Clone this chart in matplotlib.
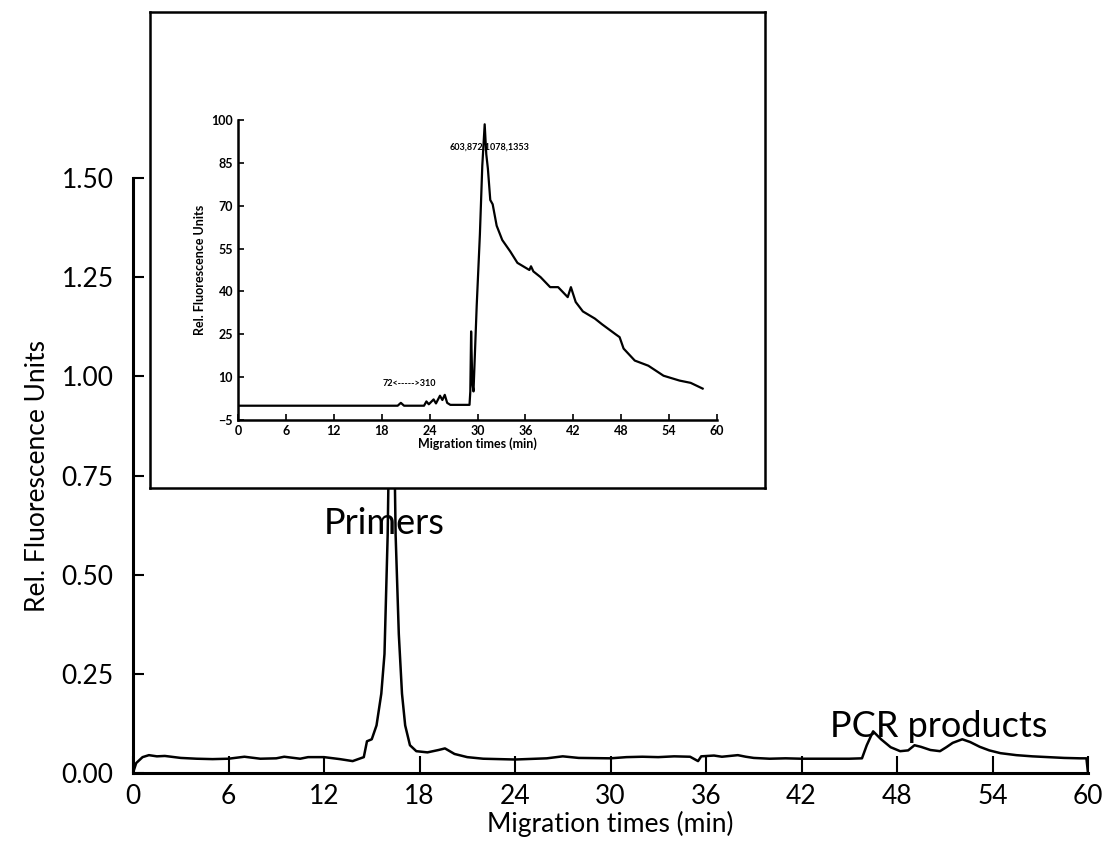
import numpy as np
import matplotlib.pyplot as plt

# main electropherogram (time in min, relative fluorescence)
main_t = [0.0, 0.2, 0.6, 1.0, 1.5, 2.0, 3.0, 4.0, 5.0, 6.0, 7.0, 8.0, 9.0, 9.5,
          10.5, 11.0, 12.0, 13.0, 13.8, 14.5, 14.7, 15.0, 15.3, 15.6, 15.8, 16.0,
          16.25, 16.5, 16.7, 16.9, 17.1, 17.4, 17.8, 18.5, 19.2, 19.6, 20.2, 21.0,
          22.0, 24.0, 26.0, 27.0, 28.0, 30.0, 31.0, 32.0, 33.0, 34.0, 35.0, 35.5,
          35.7, 36.5, 37.0, 38.0, 38.5, 39.0, 40.0, 41.0, 42.0, 43.0, 44.0, 45.0,
          45.8, 46.1, 46.5, 47.0, 47.6, 48.2, 48.7, 49.1, 49.5, 50.1, 50.7, 51.1,
          51.5, 52.1, 52.6, 53.2, 53.8, 54.5, 55.5, 56.5, 57.5, 58.5, 59.5, 59.9, 60.0]
main_y = [0.0, 0.025, 0.040, 0.045, 0.042, 0.043, 0.038, 0.036, 0.035, 0.036, 0.041,
          0.036, 0.037, 0.041, 0.036, 0.040, 0.040, 0.035, 0.030, 0.040, 0.080, 0.085,
          0.12, 0.20, 0.30, 0.60, 1.30, 0.60, 0.35, 0.20, 0.12, 0.07, 0.055, 0.052,
          0.058, 0.062, 0.048, 0.040, 0.036, 0.034, 0.037, 0.042, 0.038, 0.037, 0.040,
          0.041, 0.040, 0.042, 0.041, 0.030, 0.042, 0.044, 0.041, 0.045, 0.041, 0.038,
          0.036, 0.037, 0.036, 0.036, 0.036, 0.036, 0.037, 0.070, 0.105, 0.085, 0.065,
          0.055, 0.057, 0.070, 0.066, 0.058, 0.055, 0.065, 0.076, 0.085, 0.078, 0.066,
          0.057, 0.050, 0.045, 0.042, 0.040, 0.038, 0.037, 0.037, 0.0]

# inset trace
ins_t = [0.0, 20.0, 20.4, 20.8, 23.3, 23.6, 23.9, 24.5, 24.8, 25.3, 25.6, 25.9, 26.2,
         26.6, 29.0, 29.1, 29.2, 29.35, 29.5, 29.7, 29.9, 30.3, 30.6, 30.9, 31.1, 31.3,
         31.6, 31.9, 32.4, 33.1, 34.1, 35.0, 36.5, 36.7, 37.0, 37.9, 39.1, 40.1, 41.3,
         41.7, 42.3, 43.2, 44.7, 45.6, 47.3, 47.8, 48.3, 49.7, 51.4, 53.3, 55.3, 56.7, 58.2]
ins_y = [0.0, 0.0, 1.0, 0.0, 0.0, 1.5, 0.5, 2.2, 0.8, 3.5, 2.0, 3.8, 1.0, 0.3, 0.3, 5.0,
         26.0, 8.0, 5.0, 20.0, 35.0, 60.0, 84.0, 98.5, 88.0, 83.0, 72.0, 70.5, 63.0, 58.0,
         54.0, 50.0, 47.5, 48.8, 47.0, 45.0, 41.5, 41.5, 38.0, 41.5, 36.3, 33.0, 30.5,
         28.5, 25.0, 24.0, 20.0, 15.8, 14.0, 10.5, 8.8, 8.0, 6.0]

xticks = np.arange(0, 61, 6)
main_yticks = [0.0, 0.25, 0.5, 0.75, 1.0, 1.25, 1.5]
ins_yticks = [-5, 10, 25, 40, 55, 70, 85, 100]

W, H = 1108, 849
fig = plt.figure(figsize=(W / 100, H / 100), dpi=100)
plt.rcParams['font.family'] = ['Lato', 'DejaVu Sans']

def box(l, t, r, b):
    return [l / W, 1 - b / H, (r - l) / W, (b - t) / H]

ax = fig.add_axes(box(133, 178, 1088, 773))
ax.plot(main_t, main_y, c='k', lw=1.8)
ax.set_xlim(0, 60)
ax.set_ylim(0, 1.5)
ax.spines['top'].set_visible(False)
ax.spines['right'].set_visible(False)
ax.spines['left'].set_linewidth(2.2)
ax.spines['bottom'].set_linewidth(2.2)
ax.set_xticks(xticks)
ax.set_yticks(main_yticks)
ax.set_yticklabels(['%.2f' % v for v in main_yticks])
ax.tick_params(axis='y', direction='in', length=8, width=1.5, labelsize=19, pad=14)
ax.tick_params(axis='x', direction='in', length=12, width=1.5, labelsize=19, pad=8)
ax.set_xlabel('Migration times (min)', fontsize=19, labelpad=1)
ax.set_ylabel('Rel. Fluorescence Units', fontsize=19, labelpad=8)
ax.text(15.8, 0.63, 'Primers', fontsize=26, ha='center', va='center')
ax.text(50.6, 0.116, 'PCR products', fontsize=26, ha='center', va='center')

# white frame holding the inset
frame = fig.add_axes(box(150, 12, 765, 488))
frame.set_xticks([])
frame.set_yticks([])
for s in frame.spines.values():
    s.set_linewidth(1.8)
frame.set_zorder(3)

ins = fig.add_axes(box(238, 120, 717, 420))
ins.set_zorder(4)
ins.plot(ins_t, ins_y, c='k', lw=1.6)
ins.set_xlim(0, 60)
ins.set_ylim(-5, 100)
ins.spines['top'].set_visible(False)
ins.spines['right'].set_visible(False)
ins.spines['left'].set_linewidth(1.8)
ins.spines['bottom'].set_linewidth(1.8)
ins.set_xticks(xticks)
ins.set_yticks(ins_yticks)
ins.tick_params(direction='in', length=4, width=1.2, labelsize=9)
for lab in ins.get_xticklabels() + ins.get_yticklabels():
    lab.set_fontweight('bold')
ins.set_xlabel('Migration times (min)', fontsize=9, fontweight='bold', labelpad=0)
ins.set_ylabel('Rel. Fluorescence Units', fontsize=9, fontweight='bold', labelpad=4)
ins.text(31.5, 90.5, '603,872,1078,1353', fontsize=6.5, fontweight='bold', ha='center', va='center')
ins.text(21.4, 7.6, '72<----->310', fontsize=6.5, fontweight='bold', ha='center', va='center')

fig.savefig('out.png', dpi=100)
